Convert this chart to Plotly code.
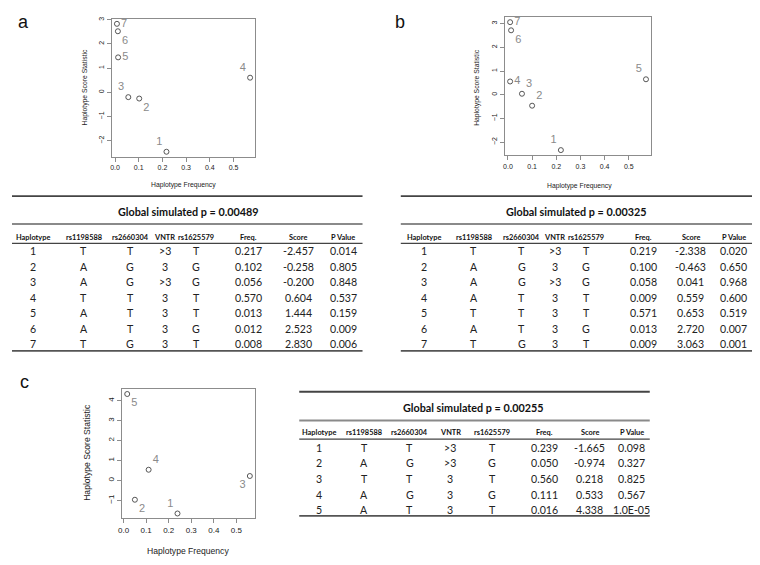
import plotly.graph_objects as go

W, H = 760, 565          # reference picture size (coordinates below are in its pixels)
MARGIN = 8               # browser body margin around the figure
FW, FH = W - 2 * MARGIN, H - 2 * MARGIN   # figure fits the window without scrolling

# ---------------- data ----------------
columns = ["Haplotype", "rs1198588", "rs2660304", "VNTR", "rs1625579", "Freq.", "Score", "P Value"]

hap_a = ["1", "2", "3", "4", "5", "6", "7"]
rs1198588_a = ["T", "A", "A", "T", "A", "A", "T"]
rs2660304_a = ["T", "G", "G", "T", "T", "T", "G"]
vntr_a = [">3", "3", ">3", "3", "3", "3", "3"]
rs1625579_a = ["T", "G", "G", "T", "T", "G", "T"]
freq_a = [0.217, 0.102, 0.056, 0.570, 0.013, 0.012, 0.008]
score_a = [-2.457, -0.258, -0.200, 0.604, 1.444, 2.523, 2.830]
pval_a = ["0.014", "0.805", "0.848", "0.537", "0.159", "0.009", "0.006"]
global_p_a = "0.00489"

hap_b = ["1", "2", "3", "4", "5", "6", "7"]
rs1198588_b = ["T", "A", "A", "A", "T", "A", "T"]
rs2660304_b = ["T", "G", "G", "T", "T", "T", "G"]
vntr_b = [">3", "3", ">3", "3", "3", "3", "3"]
rs1625579_b = ["T", "G", "G", "T", "T", "G", "T"]
freq_b = [0.219, 0.100, 0.058, 0.009, 0.571, 0.013, 0.009]
score_b = [-2.338, -0.463, 0.041, 0.559, 0.653, 2.720, 3.063]
pval_b = ["0.020", "0.650", "0.968", "0.600", "0.519", "0.007", "0.001"]
global_p_b = "0.00325"

hap_c = ["1", "2", "3", "4", "5"]
rs1198588_c = ["T", "A", "T", "A", "A"]
rs2660304_c = ["T", "G", "T", "G", "T"]
vntr_c = [">3", ">3", "3", "3", "3"]
rs1625579_c = ["T", "G", "T", "G", "T"]
freq_c = [0.239, 0.050, 0.560, 0.111, 0.016]
score_c = [-1.665, -0.974, 0.218, 0.533, 4.338]
pval_c = ["0.098", "0.327", "0.825", "0.567", "1.0E-05"]
global_p_c = "0.00255"

x_ticks = [0.0, 0.1, 0.2, 0.3, 0.4, 0.5]
y_ticks_ab = [-2, -1, 0, 1, 2, 3]
y_ticks_c = [-1, 0, 1, 2, 3, 4]

# ---------------- styling / layout helpers ----------------
def px(x):
    return x / W

def py(y):
    return 1 - y / H

LABEL_GRAY = "#8a8a8a"
AXIS_GRAY = "#8c8c8c"
TXT = "#222222"
TABLE_FONT = "Lato"
PLOT_FONT = "Liberation Sans"

fig = go.Figure()
annotations = []
shapes = []


def ann(x, y, text, font, **kw):
    d = dict(x=px(x), y=py(y), xref="paper", yref="paper", text=text, showarrow=False,
             xanchor="center", yanchor="middle", font=font)
    d.update(kw)
    annotations.append(d)


panels = [
    dict(name="a", hap=hap_a, freq=freq_a, score=score_a, yt=y_ticks_ab,
         box=(102.3, 9, 250, 151.7),
         pos=["top left", "bottom right", "top left", "top left", "middle right", "bottom right", "middle right"],
         tfs=7, afs=6.8, xt=(176, 181), yti=(75, 80), lab=(12, 0)),
    dict(name="b", hap=hap_b, freq=freq_b, score=score_b, yt=y_ticks_ab,
         box=(506, 7.3, 656.7, 150),
         pos=["top left", "top right", "top right", "middle right", "top left", "bottom right", "middle right"],
         tfs=7, afs=6.8, xt=(583, 181.7), yti=(478, 80), lab=(398, 0)),
    dict(name="c", hap=hap_c, freq=freq_c, score=score_c, yt=y_ticks_c,
         box=(113.3, 391.7, 249.3, 525),
         pos=["top left", "bottom right", "bottom left", "top right", "bottom right"],
         tfs=8, afs=8.6, xt=(181, 559), yti=(76.7, 456.7), lab=(13, 372)),
]

for i, p in enumerate(panels):
    sfx = "" if i == 0 else str(i + 1)
    fx = p["freq"]
    sy = p["score"]
    xr = max(fx) - min(fx)
    yr = max(sy) - min(sy)
    xrange = [min(fx) - 0.04 * xr, max(fx) + 0.04 * xr]
    yrange = [min(sy) - 0.04 * yr, max(sy) + 0.04 * yr]
    x0, y0, x1, y1 = p["box"]
    fig.add_trace(go.Scatter(
        x=fx, y=sy, text=p["hap"], mode="markers+text",
        textposition=p["pos"],
        textfont=dict(family=PLOT_FONT, size=11, color=LABEL_GRAY),
        marker=dict(symbol="circle-open", size=5, color="#444", line=dict(width=0.9, color="#444")),
        xaxis="x" + sfx, yaxis="y" + sfx, showlegend=False, cliponaxis=False,
    ))
    common = dict(showline=True, mirror=True, linecolor=AXIS_GRAY, linewidth=1,
                  ticks="outside", ticklen=4, tickcolor=AXIS_GRAY, tickwidth=1,
                  showgrid=False, zeroline=False,
                  tickfont=dict(family=PLOT_FONT, size=p["tfs"], color=TXT))
    fig.update_layout(**{
        "xaxis" + sfx: dict(domain=[px(x0), px(x1)], range=xrange, anchor="y" + sfx,
                            tickvals=x_ticks, tickformat=".1f", **common),
        "yaxis" + sfx: dict(domain=[py(y1), py(y0)], range=yrange, anchor="x" + sfx,
                            tickvals=p["yt"], tickangle=-90, **common),
    })
    ann(p["xt"][0], p["xt"][1], "Haplotype Frequency",
        dict(family=PLOT_FONT, size=p["afs"], color=TXT))
    ann(p["yti"][0], p["yti"][1], "Haplotype Score Statistic",
        dict(family=PLOT_FONT, size=p["afs"], color=TXT), textangle=-90)
    ann(p["lab"][0], p["lab"][1], p["name"], dict(family=PLOT_FONT, size=18, color="#111"),
        yanchor="top")

# ---------------- tables ----------------
tables = [
    dict(rows=[hap_a, rs1198588_a, rs2660304_a, vntr_a, rs1625579_a,
               ["%.3f" % v for v in freq_a], ["%.3f" % v for v in score_a], pval_a],
         gp=global_p_a, x0=0, x1=360, xt=181,
         cx=[22, 73.5, 121.7, 156.7, 189, 242.7, 294, 340],
         ytop=192.3, ytitle=208.5, yline2=221, yhead=234.5, yhline=241, yrow0=249.3, dy=16, ybot=352),
    dict(rows=[hap_b, rs1198588_b, rs2660304_b, vntr_b, rs1625579_b,
               ["%.3f" % v for v in freq_b], ["%.3f" % v for v in score_b], pval_b],
         gp=global_p_b, x0=399.3, x1=760, xt=580,
         cx=[423.3, 474.3, 523.3, 557.3, 589.8, 648.3, 697.3, 741.5],
         ytop=192.3, ytitle=208.5, yline2=221, yhead=234.5, yhline=241, yrow0=249.3, dy=16, ybot=352),
    dict(rows=[hap_c, rs1198588_c, rs2660304_c, vntr_c, rs1625579_c,
               ["%.3f" % v for v in freq_c], ["%.3f" % v for v in score_c], pval_c],
         gp=global_p_c, x0=295, x1=655, xt=474,
         cx=[315, 361.7, 408.3, 450, 493.3, 546.7, 593.3, 636.7],
         ytop=394.3, ytitle=410.5, yline2=424, yhead=436.5, yhline=443.3, yrow0=452.3, dy=16.1, ybot=522.5),
]


def hline(x0, x1, y, w, c):
    shapes.append(dict(type="line", xref="paper", yref="paper",
                       x0=px(x0), x1=px(x1), y0=py(y), y1=py(y),
                       line=dict(color=c, width=w)))


for t in tables:
    hline(t["x0"], t["x1"], t["ytop"], 1.8, "#444")
    hline(t["x0"], t["x1"], t["yline2"], 2, "#8a8a8a")
    hline(t["x0"], t["x1"], t["yhline"], 1.3, "#444")
    hline(t["x0"], t["x1"], t["ybot"], 1.8, "#555")
    ann(t["xt"], t["ytitle"], "<b>Global simulated p = " + t["gp"] + "</b>",
        dict(family=TABLE_FONT, size=10.8, color="#111"))
    for j, col in enumerate(columns):
        ann(t["cx"][j], t["yhead"], "<b>" + col + "</b>",
            dict(family=TABLE_FONT, size=7.4, color="#111"))
        for r, val in enumerate(t["rows"][j]):
            ann(t["cx"][j], t["yrow0"] + r * t["dy"], val,
                dict(family=TABLE_FONT, size=10.6, color="#222"))

fig.update_layout(width=FW, height=FH, margin=dict(l=0, r=0, t=0, b=0),
                  paper_bgcolor="white", plot_bgcolor="white",
                  annotations=annotations, shapes=shapes)

fig.write_html("out.html")
